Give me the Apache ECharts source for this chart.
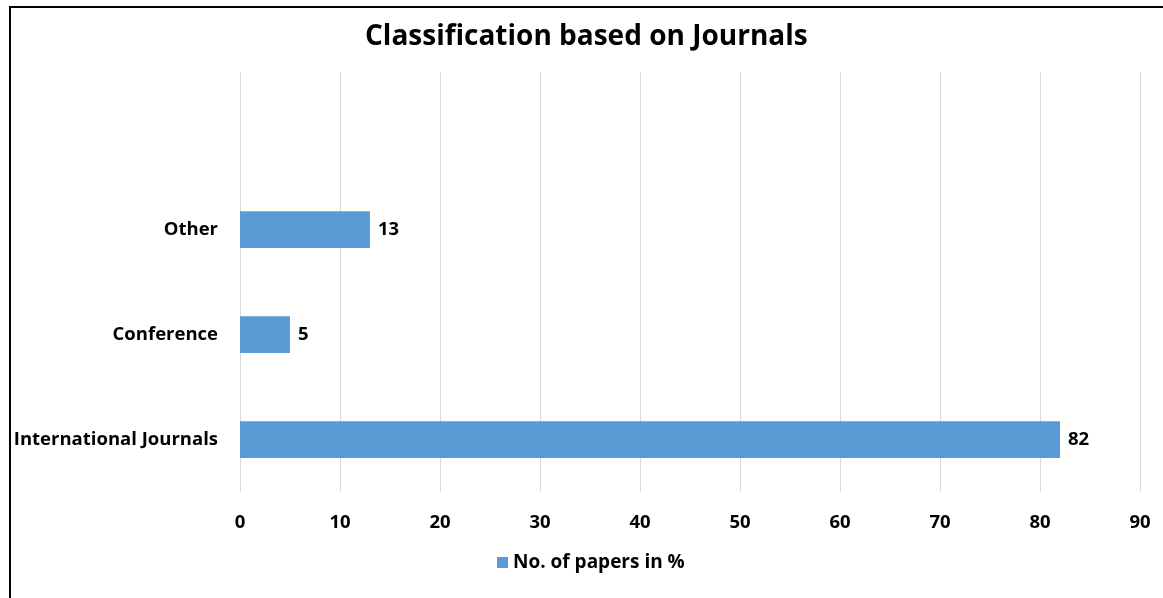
<!DOCTYPE html>
<html>
<head>
<meta charset="utf-8">
<script src="https://cdn.jsdelivr.net/npm/echarts@6/dist/echarts.min.js"></script>
<style>
  html, body { margin: 0; padding: 0; background: #fff; }
  #chart { width: 1163px; height: 598px; }
</style>
</head>
<body>
<div id="chart"></div>
<script>
// Publication venues, bottom to top; the last slot is an empty spacer row
const categories = ['International Journals', 'Conference', 'Other', ''];
const papersPercent = [82, 5, 13, null];
const seriesName = 'No. of papers in %';
const titleText = 'Classification based on Journals';

const chart = echarts.init(document.getElementById('chart'));
const font = '"Open Sans", "Noto Sans", sans-serif';

chart.setOption({
  animation: false,
  title: {
    text: titleText,
    left: 360,
    top: 18,
    textStyle: { fontFamily: font, fontSize: 28, fontWeight: 'bold', color: '#000' }
  },
  legend: {
    bottom: 21,
    left: 492,
    itemWidth: 11,
    itemHeight: 11,
    itemGap: 6,
    icon: 'rect',
    textStyle: { fontFamily: font, fontSize: 19, fontWeight: 'bold', color: '#000' },
    data: [seriesName]
  },
  grid: { left: 240, right: 23, top: 72, bottom: 106, containLabel: false },
  xAxis: {
    type: 'value',
    min: 0,
    max: 90,
    interval: 10,
    axisLine: { show: false },
    axisTick: { show: false },
    axisLabel: { margin: 21, fontFamily: font, fontSize: 18.5, fontWeight: 'bold', color: '#000' },
    splitLine: { show: true, lineStyle: { color: '#d9d9d9', width: 1 } }
  },
  yAxis: {
    type: 'category',
    data: categories,
    axisLine: { show: false },
    axisTick: { show: false },
    axisLabel: { margin: 22, fontFamily: font, fontSize: 18.5, fontWeight: 'bold', color: '#000' }
  },
  series: [{
    name: seriesName,
    type: 'bar',
    data: papersPercent,
    barWidth: '35%',
    itemStyle: { color: '#5b9bd5' },
    label: {
      show: true,
      position: 'right',
      distance: 8,
      fontFamily: font,
      fontSize: 18.5,
      fontWeight: 'bold',
      color: '#000'
    }
  }],
  graphic: [
    { type: 'line', shape: { x1: 10, y1: 6, x2: 10, y2: 598 }, style: { stroke: '#000', lineWidth: 2 } },
    { type: 'line', shape: { x1: 9, y1: 7, x2: 1163, y2: 7 }, style: { stroke: '#000', lineWidth: 2 } }
  ]
});
</script>
</body>
</html>
